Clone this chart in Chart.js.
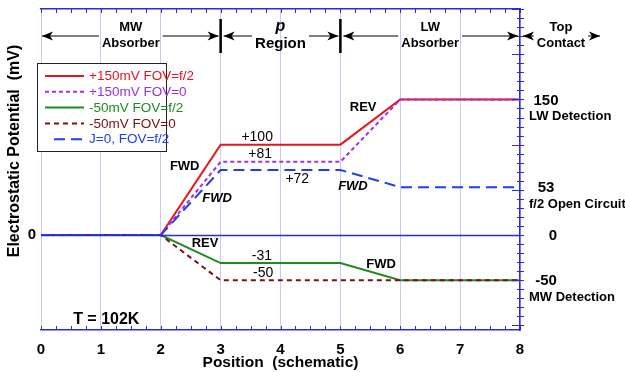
<!DOCTYPE html>
<html>
<head>
<meta charset="utf-8">
<script src="https://cdn.jsdelivr.net/npm/chart.js@4.4.1/dist/chart.umd.min.js"></script>
<style>
  html, body { margin: 0; padding: 0; background: #fff; }
  #wrap { width: 625px; height: 372px; }
</style>
</head>
<body>
<div id="wrap"><canvas id="potential" width="625" height="372"></canvas></div>
<script>
// Schematic positions of the layer boundaries
const positions = [0, 2, 3, 5, 6, 8];

// Electrostatic potential (mV) at each position
const plusF2 = [0, 0, 100, 100, 150, 150];     // +150mV FOV=f/2
const plusF0 = [0, 0, 81, 81, 150, 150];       // +150mV FOV=0
const minusF2 = [0, 0, -31, -31, -50, -50];    // -50mV FOV=f/2
const minusF0 = [0, 0, -50, -50, -50, -50];    // -50mV FOV=0
const openF2 = [0, 0, 72, 72, 53, 53];         // J=0, FOV=f/2

const seriesNames = ['+150mV FOV=f/2', '+150mV FOV=0', '-50mV FOV=f/2', '-50mV FOV=0', 'J=0, FOV=f/2'];
const seriesValues = [plusF2, plusF0, minusF2, minusF0, openF2];

const xTickValues = [0, 1, 2, 3, 4, 5, 6, 7, 8];

// Device regions along the top
const regionTop = ['MW', 'p', 'LW', 'Top'];
const regionBottom = ['Absorber', 'Region', 'Absorber', 'Contact'];
const regionBounds = [[0, 3], [3, 5], [5, 8], [8, null]];

// Right-hand reference levels
const levelValues = [150, 53, 0, -50];
const levelNotes = ['LW Detection', 'f/2 Open Circuit', '', 'MW Detection'];

// In-plot notes: [text, x, y, kind]
const notes = [
  ['+100', 3.61, 108, 'plain'],
  ['+81', 3.66, 89, 'plain'],
  ['+72', 4.28, 62, 'plain'],
  ['FWD', 2.4, 76, 'bold'],
  ['FWD', 2.94, 41, 'italic'],
  ['REV', 2.74, -9, 'bold'],
  ['-31', 3.69, -23, 'plain'],
  ['-50', 3.71, -42, 'plain'],
  ['FWD', 5.68, -32, 'bold'],
  ['REV', 5.38, 141, 'bold'],
  ['FWD', 5.21, 54, 'italic'],
  ['T = 102K', 1.09, -93, 'big']
];

const FONT = '"Liberation Sans", Arial, Helvetica, sans-serif';
const AXIS_BLUE = '#2a2ae0';
const GRID = '#c9c9f6';

const styles = [
  { color: '#e8141c', text: '#e8141c', dash: [] },
  { color: '#a231e6', text: '#9b30e0', dash: [4, 3] },
  { color: '#1f8a22', text: '#1f8a22', dash: [] },
  { color: '#7d1010', text: '#7d1010', dash: [5, 4] },
  { color: '#1f3ef0', text: '#1f3ef0', dash: [11, 6] }
];

Chart.defaults.font.family = FONT;

function arrowHead(ctx, tipX, y, dir) {
  // dir = -1 points left, +1 points right
  const len = 11, half = 4.5, notch = 3;
  ctx.beginPath();
  ctx.moveTo(tipX, y);
  ctx.lineTo(tipX - dir * len, y - half);
  ctx.lineTo(tipX - dir * (len - notch), y);
  ctx.lineTo(tipX - dir * len, y + half);
  ctx.closePath();
  ctx.fill();
}

// keep the plot frame where the axes put it, without label overhang padding
function fixSize(prop, size) {
  return s => {
    s[prop] = size;
    s.paddingTop = 0; s.paddingBottom = 0;
    s.paddingLeft = 0; s.paddingRight = 0;
  };
}

const decor = {
  id: 'decor',
  afterDatasetsDraw(chart) {
    const { ctx, chartArea: a, scales: { x, y } } = chart;
    ctx.save();
    // zero reference line over the traces
    const y0 = Math.round(y.getPixelForValue(0)) + 0.5;
    ctx.strokeStyle = AXIS_BLUE;
    ctx.lineWidth = 1.5;
    ctx.beginPath();
    ctx.moveTo(a.left, y0);
    ctx.lineTo(a.right, y0);
    ctx.stroke();

    // minor ticks on top and bottom edges
    ctx.lineWidth = 1;
    ctx.beginPath();
    for (let v = 0; v <= 8.001; v += 0.25) {
      const px = Math.round(x.getPixelForValue(v)) + 0.5;
      ctx.moveTo(px, a.bottom);
      ctx.lineTo(px, a.bottom - 4);
      ctx.moveTo(px, a.top);
      ctx.lineTo(px, a.top + 4);
    }
    // right axis ticks
    for (let v = -100; v <= 250; v += 10) {
      const py = Math.round(y.getPixelForValue(v)) + 0.5;
      const major = v % 50 === 0;
      ctx.moveTo(a.right - (major ? 8 : 3), py);
      ctx.lineTo(a.right + 4, py);
    }
    ctx.stroke();
    ctx.restore();
  },
  afterDraw(chart) {
    const { ctx, chartArea: a, scales: { x, y } } = chart;
    ctx.save();
    ctx.fillStyle = '#000';
    ctx.strokeStyle = '#000';

    // region headers
    const arrowY = 36;
    const textTop = 27, textBottom = 43;
    regionBounds.forEach((b, i) => {
      const x1 = x.getPixelForValue(b[0]);
      const x2 = b[1] === null ? a.right + 80 : x.getPixelForValue(b[1]);
      const cx = b[1] === null ? a.right + 41 : (x1 + x2) / 2;
      const small = 'bold 13px ' + FONT;
      const big = 'bold 15px ' + FONT;
      const isP = regionTop[i] === 'p';
      ctx.font = isP ? big : small;
      const w = Math.max(ctx.measureText(regionBottom[i]).width, 20) + 6;
      const lx1 = x1 + (i === 0 ? 1 : 3);
      const lx2 = x2 - (b[1] === null ? 0 : 2);
      ctx.lineWidth = 1.2;
      ctx.beginPath();
      ctx.moveTo(lx1, arrowY);
      ctx.lineTo(cx - w / 2, arrowY);
      ctx.moveTo(cx + w / 2, arrowY);
      ctx.lineTo(lx2, arrowY);
      ctx.stroke();
      arrowHead(ctx, lx1, arrowY, -1);
      arrowHead(ctx, lx2, arrowY, 1);

      ctx.textAlign = 'center';
      ctx.textBaseline = 'middle';
      ctx.font = isP ? 'italic bold 16px ' + FONT : small;
      ctx.fillText(regionTop[i], cx, textTop);
      ctx.font = isP ? big : small;
      ctx.fillText(regionBottom[i], cx, textBottom + (isP ? 1 : 0));
    });
    // boundary bars
    ctx.lineWidth = 2.5;
    ctx.beginPath();
    [3, 5].forEach(v => {
      const px = x.getPixelForValue(v);
      ctx.moveTo(px, 19);
      ctx.lineTo(px, 53);
    });
    ctx.stroke();

    // notes inside the plot
    notes.forEach(([t, nx, ny, kind]) => {
      ctx.font = {
        plain: '14px ' + FONT,
        bold: 'bold 13px ' + FONT,
        italic: 'italic bold 13px ' + FONT,
        big: 'bold 16px ' + FONT
      }[kind];
      ctx.textAlign = 'center';
      ctx.textBaseline = 'middle';
      ctx.fillStyle = '#000';
      ctx.fillText(t, x.getPixelForValue(nx), y.getPixelForValue(ny));
    });

    // right-hand level labels
    levelValues.forEach((v, i) => {
      const py = y.getPixelForValue(v);
      ctx.textAlign = 'center';
      ctx.textBaseline = 'middle';
      ctx.font = 'bold 15px ' + FONT;
      ctx.fillText(String(v), a.right + (levelNotes[i] ? 26 : 33), py + 1);
      if (levelNotes[i]) {
        ctx.textAlign = 'left';
        ctx.font = 'bold 13px ' + FONT;
        ctx.fillText(levelNotes[i], a.right + 9, py + 17);
      }
    });

    // y axis title
    ctx.save();
    ctx.translate(15, 151);
    ctx.rotate(-Math.PI / 2);
    ctx.textAlign = 'center';
    ctx.textBaseline = 'middle';
    ctx.font = 'bold 16px ' + FONT;
    ctx.fillText('Electrostatic Potential  (mV)', 0, 0);
    ctx.restore();

    // legend box
    const bx = 37, by = 63, bw = 129, bh = 88;
    ctx.fillStyle = '#fff';
    ctx.fillRect(bx, by, bw, bh);
    ctx.strokeStyle = '#222';
    ctx.lineWidth = 1;
    ctx.strokeRect(bx + 0.5, by + 0.5, bw, bh);
    seriesNames.forEach((name, i) => {
      const ly = 76 + i * 15.8;
      const st = styles[i];
      ctx.strokeStyle = st.color;
      ctx.lineWidth = 2;
      ctx.setLineDash(st.dash);
      ctx.beginPath();
      ctx.moveTo(i === 4 ? 54 : 45, ly);
      ctx.lineTo(84, ly);
      ctx.stroke();
      ctx.setLineDash([]);
      ctx.fillStyle = st.text;
      ctx.font = '13.5px ' + FONT;
      ctx.textAlign = 'left';
      ctx.textBaseline = 'middle';
      ctx.fillText(name, 89, ly + 0.5);
    });
    ctx.restore();
  }
};

const datasets = seriesValues.map((vals, i) => ({
  label: seriesNames[i],
  data: positions.map((p, j) => ({ x: p, y: vals[j] })),
  borderColor: styles[i].color,
  borderDash: styles[i].dash,
  borderWidth: 2,
  pointRadius: 0,
  tension: 0,
  fill: false,
  order: seriesValues.length - i
}));

new Chart(document.getElementById('potential'), {
  type: 'line',
  data: { datasets },
  options: {
    responsive: false,
    devicePixelRatio: 1,
    animation: false,
    layout: { padding: 0 },
    plugins: { legend: { display: false }, tooltip: { enabled: false } },
    scales: {
      x: {
        type: 'linear', position: 'bottom', min: 0, max: 8,
        afterFit: fixSize('height', 42),
        afterBuildTicks: s => { s.ticks = xTickValues.map(v => ({ value: v })); },
        ticks: { color: '#000', padding: 11, font: { size: 15, weight: 'bold' } },
        grid: { color: GRID, lineWidth: 1, drawTicks: false },
        border: { color: AXIS_BLUE, width: 1.5 },
        title: {
          display: true, text: 'Position  (schematic)', color: '#000',
          font: { size: 15.5, weight: 'bold' }, padding: { top: 0, bottom: 0 }
        }
      },
      x2: {
        type: 'linear', position: 'top', min: 0, max: 8,
        afterFit: fixSize('height', 9),
        ticks: { display: false },
        grid: { display: false, drawTicks: false },
        border: { color: AXIS_BLUE, width: 1.5 }
      },
      y: {
        type: 'linear', position: 'left', min: -105, max: 250,
        afterFit: fixSize('width', 41),
        afterBuildTicks: s => { s.ticks = [{ value: 0 }]; },
        ticks: { color: '#000', padding: 5, font: { size: 15, weight: 'bold' } },
        grid: { display: false, drawTicks: false },
        border: { color: GRID, width: 1 }
      },
      y2: {
        type: 'linear', position: 'right', min: -105, max: 250,
        afterFit: fixSize('width', 105),
        ticks: { display: false },
        grid: { display: false, drawTicks: false },
        border: { color: AXIS_BLUE, width: 1.5 }
      }
    }
  },
  plugins: [decor]
});
</script>
</body>
</html>
